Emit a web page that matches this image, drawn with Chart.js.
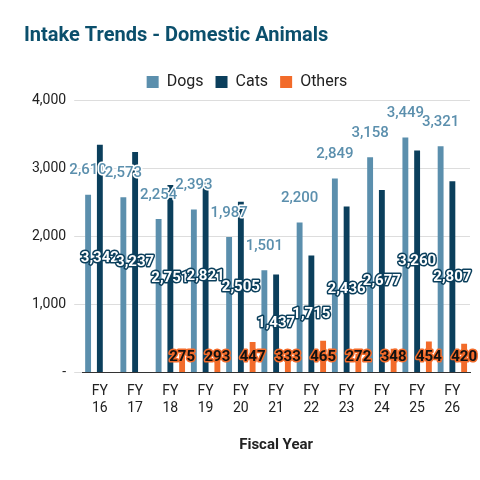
<!DOCTYPE html><html><head><script src="https://cdn.jsdelivr.net/npm/chart.js@4"></script>
<style>body{margin:0;background:#fff}#w{width:480px;height:480px}</style></head><body><div id="w"><canvas id="c"></canvas></div>
<script>
const categories=[["FY","16"],["FY","17"],["FY","18"],["FY","19"],["FY","20"],["FY","21"],["FY","22"],["FY","23"],["FY","24"],["FY","25"],["FY","26"]];
const dogs=[2610,2573,2254,2393,1987,1501,2200,2849,3158,3449,3321];
const cats=[3342,3237,2751,2821,2505,1437,1715,2436,2677,3260,2807];
const others=[null,null,275,293,447,333,465,272,348,454,420];
const fmt=v=>v.toLocaleString('en-US');
const labelPlugin={id:'lbl',afterDatasetsDraw(ch){
 const ctx=ch.ctx;const y0=ch.scales.y.getPixelForValue(0);
 ctx.save();ctx.textAlign='center';ctx.textBaseline='middle';ctx.lineJoin='round';
 ch.data.datasets.forEach((ds,i)=>{ch.getDatasetMeta(i).data.forEach((b,j)=>{
  const v=ds.data[j];if(v==null)return;let y,fill,stroke,font;
  if(i===0){y=b.y-24;fill='#5b8fad';stroke='#fff';font='500 15px Roboto';}
  else if(i===1){y=(b.y+y0)/2;fill='#fff';stroke='#0b3f5c';font='bold 15px Roboto';}
  else{y=y0-15;fill='#111';stroke='#f26b2a';font='bold 15px Roboto';}
  ctx.font=font;ctx.lineWidth=3;ctx.strokeStyle=stroke;ctx.strokeText(fmt(v),b.x,y);ctx.fillStyle=fill;ctx.fillText(fmt(v),b.x,y);
 });});ctx.restore();}};
new Chart(document.getElementById('c'),{type:'bar',plugins:[labelPlugin],
data:{labels:categories,datasets:[
 {label:'Dogs',data:dogs,backgroundColor:'#5b8fad'},
 {label:'Cats',data:cats,backgroundColor:'#0b3f5c'},
 {label:'Others',data:others,backgroundColor:'#f26b2a'}]},
options:{responsive:true,maintainAspectRatio:false,animation:false,
 datasets:{bar:{categoryPercentage:1,barPercentage:0.5}},
 layout:{padding:{left:24,right:10,top:8,bottom:22}},
 plugins:{title:{display:true,text:'Intake Trends - Domestic Animals',align:'start',color:'#0b4f6c',font:{family:'Roboto',size:20,weight:'bold'},padding:{top:16,bottom:14}},
  legend:{labels:{boxWidth:12,boxHeight:12,color:'#222',padding:12,font:{family:'Roboto',size:16}}},tooltip:{enabled:false}},
 scales:{x:{grid:{display:false},border:{color:'#333'},ticks:{color:'#222',font:{family:'Roboto',size:14},maxRotation:0},
   title:{display:true,text:'Fiscal Year',color:'#222',font:{family:'Roboto',size:15,weight:'bold'},padding:{top:16}}},
  y:{min:0,max:4000,border:{display:false},grid:{color:'#ddd'},afterFit:s=>{s.paddingTop=0;},ticks:{stepSize:1000,padding:8,color:'#222',font:{family:'Roboto',size:14},callback:v=>v===0?'-':fmt(v)}}}}});
</script></body></html>
